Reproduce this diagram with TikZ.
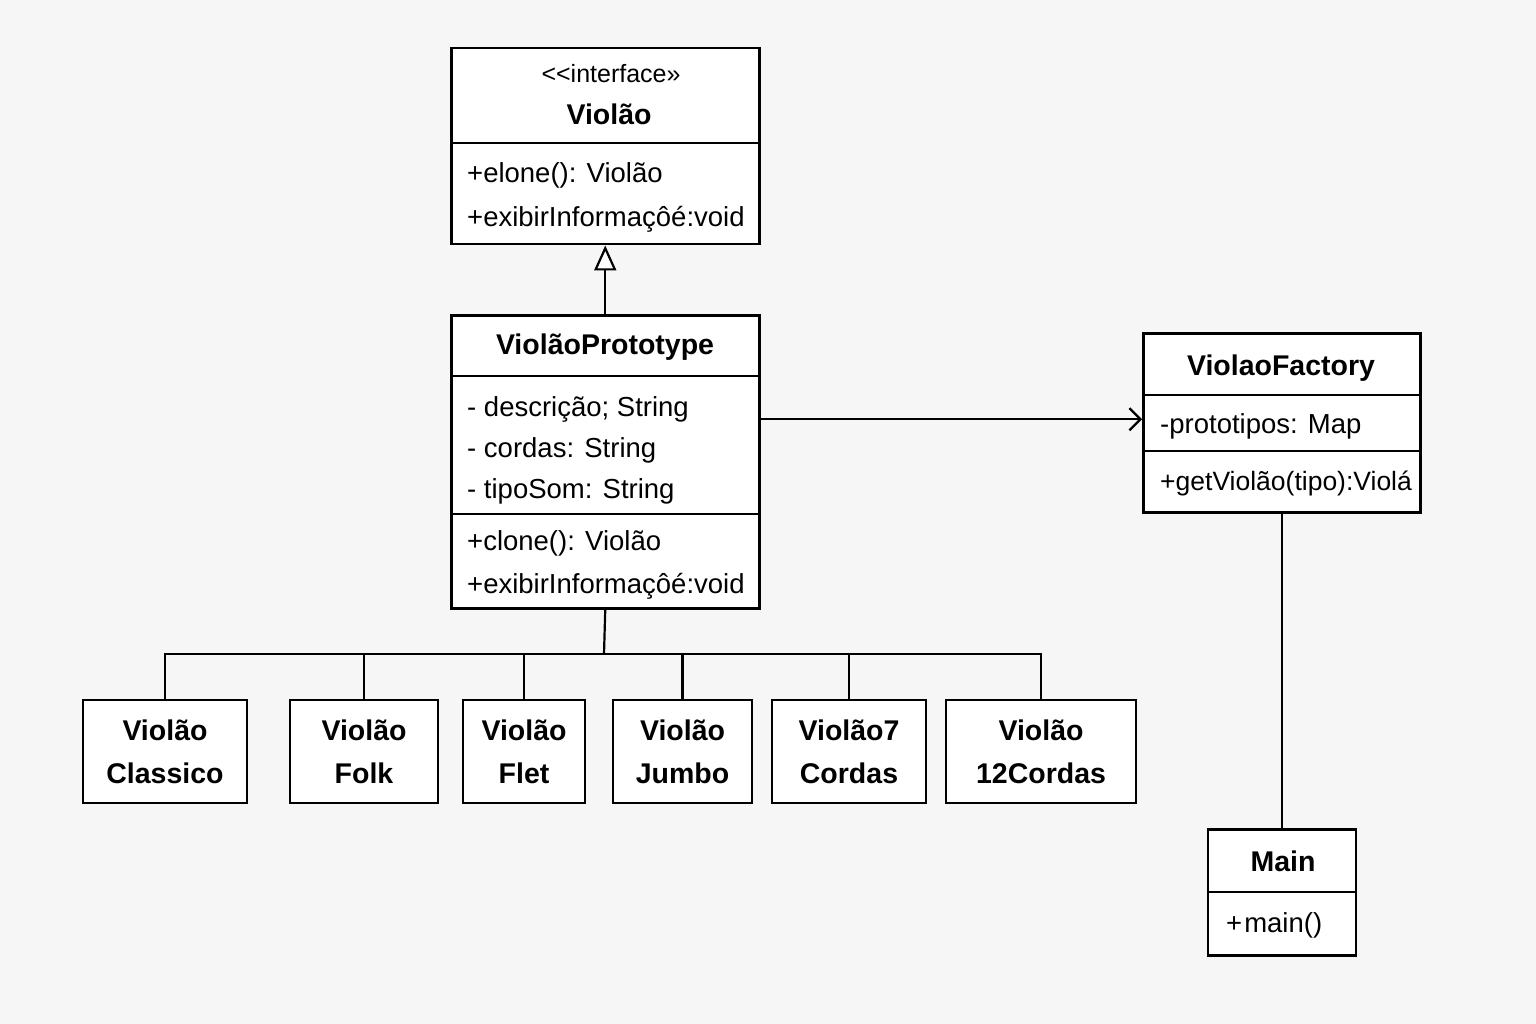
\documentclass[tikz,border=0pt]{standalone}
\usepackage{fontspec}
\setmainfont{Liberation Sans}
\usetikzlibrary{arrows.meta}
\definecolor{bg}{RGB}{246,246,246}
\newcommand{\attrfont}{\fontsize{27.5pt}{33pt}\selectfont}
\newcommand{\namefont}{\fontsize{28.5pt}{43pt}\selectfont\bfseries}
\newcommand{\sterfont}{\fontsize{25pt}{30pt}\selectfont}

\begin{document}
\begin{tikzpicture}[x=1pt,y=-1pt,
  box/.style={draw,line width=2.5pt,fill=white,inner sep=0pt,anchor=north west},
  leaf/.style={draw,line width=2.5pt,fill=white,minimum height=103pt,inner sep=0pt,align=center,font=\namefont},
  divider/.style={line width=2.2pt},
  attr/.style={anchor=base west,inner sep=0pt,font=\attrfont},
  cname/.style={anchor=base,inner sep=0pt,font=\namefont},
  link/.style={line width=2.2pt}]

\fill[bg] (0,0) rectangle (1536,1024);
\useasboundingbox (0,0) rectangle (1536,1024);

\node[box,minimum width=308pt,minimum height=196pt] (iface) at (450,47) {};
\draw[divider] (450,143) -- (758,143);
\node[anchor=base,inner sep=0pt,font=\sterfont] (ifster) at (611,83) {<\kern0pt<interface»};
\node[cname] (ifname) at (609,125) {Violão};
\node[attr] (ifop1) at (467,183) {+elone(): Violão};
\node[attr] (ifop2) at (467,227) {+exibirInformaçôé:void};

\node[box,minimum width=308pt,minimum height=293pt] (proto) at (450,314) {};
\draw[divider] (450,376) -- (758,376);
\draw[divider] (450,514) -- (758,514);
\node[cname] (protoname) at (605,354) {ViolãoPrototype};
\node[attr] (pattr1) at (467,416) {- descrição; String};
\node[attr] (pattr2) at (467,457) {- cordas: String};
\node[attr] (pattr3) at (467,498) {- tipoSom: String};
\node[attr] (pop1) at (467,550) {+clone(): Violão};
\node[attr] (pop2) at (467,593) {+exibirInformaçôé:void};

\node[box,minimum width=277pt,minimum height=179pt] (factory) at (1142,332) {};
\draw[divider] (1142,395) -- (1419,395);
\draw[divider] (1142,451) -- (1419,451);
\node[cname] (factname) at (1281,375) {ViolaoFactory};
\node[attr] (fattr) at (1160,433) {-prototipos: Map};
\node[attr,font=\fontsize{26.5pt}{32pt}\selectfont] (fop) at (1160,490) {+getViolão(tipo):Violá};

\node[box,minimum width=148pt,minimum height=126pt] (main) at (1206.5,828) {};
\draw[divider] (1206.5,892) -- (1354.5,892);
\node[cname] (mainname) at (1283,871) {Main};
\node[attr] (mop) at (1226,932) {+\kern2pt main()};

\node[leaf,minimum width=164pt] (classico) at (165,751.5) {Violão\\Classico};
\node[leaf,minimum width=148pt] (folk) at (364,751.5) {Violão\\Folk};
\node[leaf,minimum width=122pt] (flet) at (524,751.5) {Violão\\Flet};
\node[leaf,minimum width=139pt] (jumbo) at (682.5,751.5) {Violão\\Jumbo};
\node[leaf,minimum width=154pt] (sete) at (849,751.5) {Violão7\\Cordas};
\node[leaf,minimum width=190pt] (doze) at (1041,751.5) {Violão\\12Cordas};

\draw[link,-{Triangle[fill=white,length=25pt,width=22pt]}] (proto.north) -- (iface.south);
\draw[link,-{Straight Barb[length=11pt,width=22pt]}] ([yshift=3.5pt]proto.east |- factory.west) -- ([yshift=3.5pt]factory.west);
\draw[link] (factory.south) -- (main.north);

\coordinate (bus) at (604,654);
\draw[link] (proto.south) -- (bus);
\foreach \c in {classico,folk,flet,jumbo,sete,doze}
  \draw[link] (bus) -| (\c.north);

\end{tikzpicture}
\end{document}
